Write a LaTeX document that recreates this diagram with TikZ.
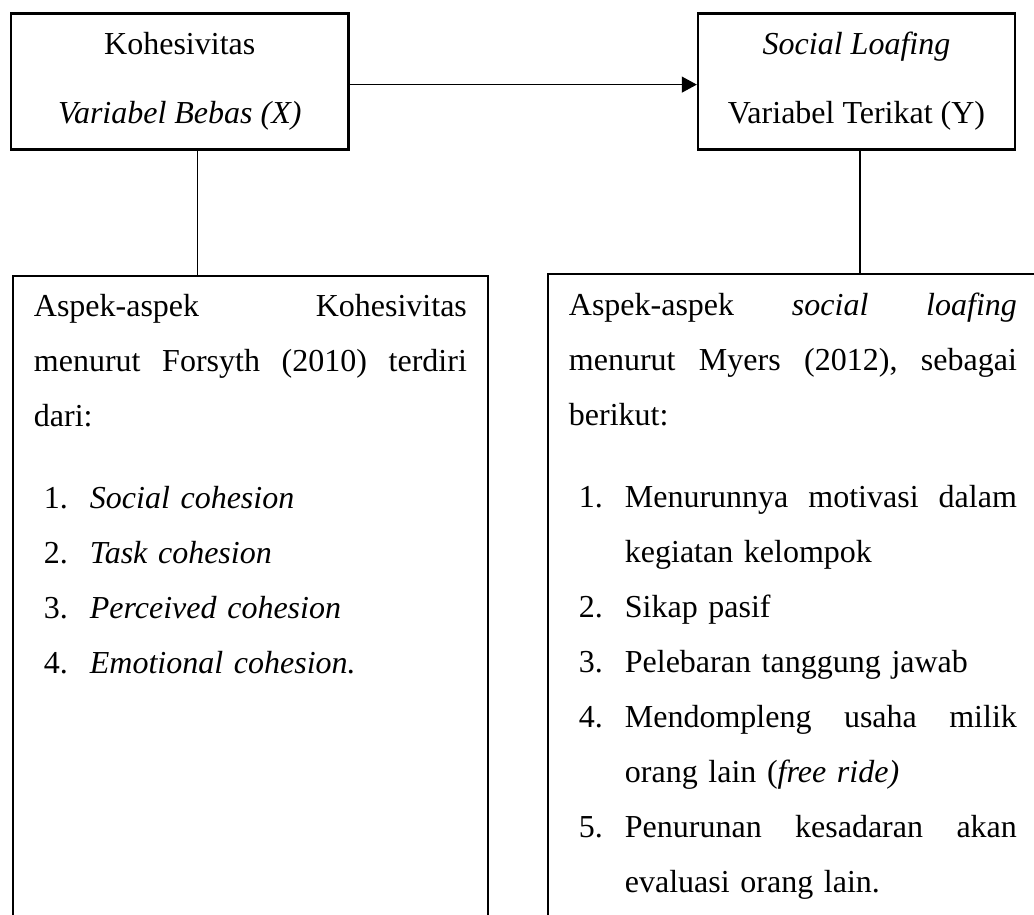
\documentclass[tikz,border=0pt]{standalone}
\usepackage{fontspec}
\setmainfont{Liberation Serif}
\usetikzlibrary{positioning, arrows.meta}

\newcommand{\nomor}[1]{\hspace*{10pt}\makebox[46pt][l]{#1}}
\newcommand{\lanjut}{\hspace*{56pt}}

\begin{document}
\begin{tikzpicture}[x=1pt, y=-1pt, node distance=676.75pt, >={Triangle[length=15pt, width=16pt]},
    box/.style={rectangle, draw, line width=2.4pt, align=center, font=\fontsize{32}{69}\selectfont},
    aspek/.style={rectangle, draw, line width=2.4pt, anchor=north west, align=left, inner xsep=21pt, inner ysep=19pt, text depth=640pt, font=\fontsize{32}{55}\selectfont},
    line/.style={line width=1.2pt}]
			\useasboundingbox (0,0) rectangle (1034,915);
			\clip (0,0) rectangle (1034,915);
			% Nodes
			\node (Kohesi) [box, minimum width=337.5pt, minimum height=136pt] at (179.75,81.6) {Kohesivitas\\\textit{Variabel Bebas (X)}};
			\node (Loafing) [box, minimum width=317pt, minimum height=136pt, right of=Kohesi] {\textit{Social Loafing}\\Variabel Terikat (Y)};
			\node (AspekX) [aspek, text width=433pt] at (11.7,274.5) {Aspek-aspek\hfill Kohesivitas\\
				menurut\hfill Forsyth\hfill (2010)\hfill terdiri\\
				dari:\\[27pt]
				\nomor{1.}\textit{Social cohesion}\\
				\nomor{2.}\textit{Task cohesion}\\
				\nomor{3.}\textit{Perceived cohesion}\\
				\nomor{4.}\textit{Emotional cohesion.}};
			\node (AspekY) [aspek, text width=448pt] at (546.7,273) {Aspek-aspek\hfill \textit{social}\hfill \textit{loafing}\\
				menurut\hfill Myers\hfill (2012),\hfill sebagai\\
				berikut:\\[27pt]
				\nomor{1.}Menurunnya\hfill motivasi\hfill dalam\\
				\lanjut kegiatan kelompok\\
				\nomor{2.}Sikap pasif\\
				\nomor{3.}Pelebaran tanggung jawab\\
				\nomor{4.}Mendompleng\hfill usaha\hfill milik\\
				\lanjut orang lain (\textit{free ride)}\\
				\nomor{5.}Penurunan\hfill kesadaran\hfill akan\\
				\lanjut evaluasi orang lain.};
		
			% Arrows
			\draw[->, line] ([yshift=-3pt]Kohesi.east) -- ([yshift=-3pt]Loafing.west);
			\draw[line] ([xshift=17.5pt]Kohesi.south) -- ([xshift=17.5pt]Kohesi.south |- AspekX.north);
			\draw[line] ([xshift=3.5pt]Loafing.south) -- ([xshift=3.5pt]Loafing.south |- AspekY.north);
		\end{tikzpicture}
\end{document}
